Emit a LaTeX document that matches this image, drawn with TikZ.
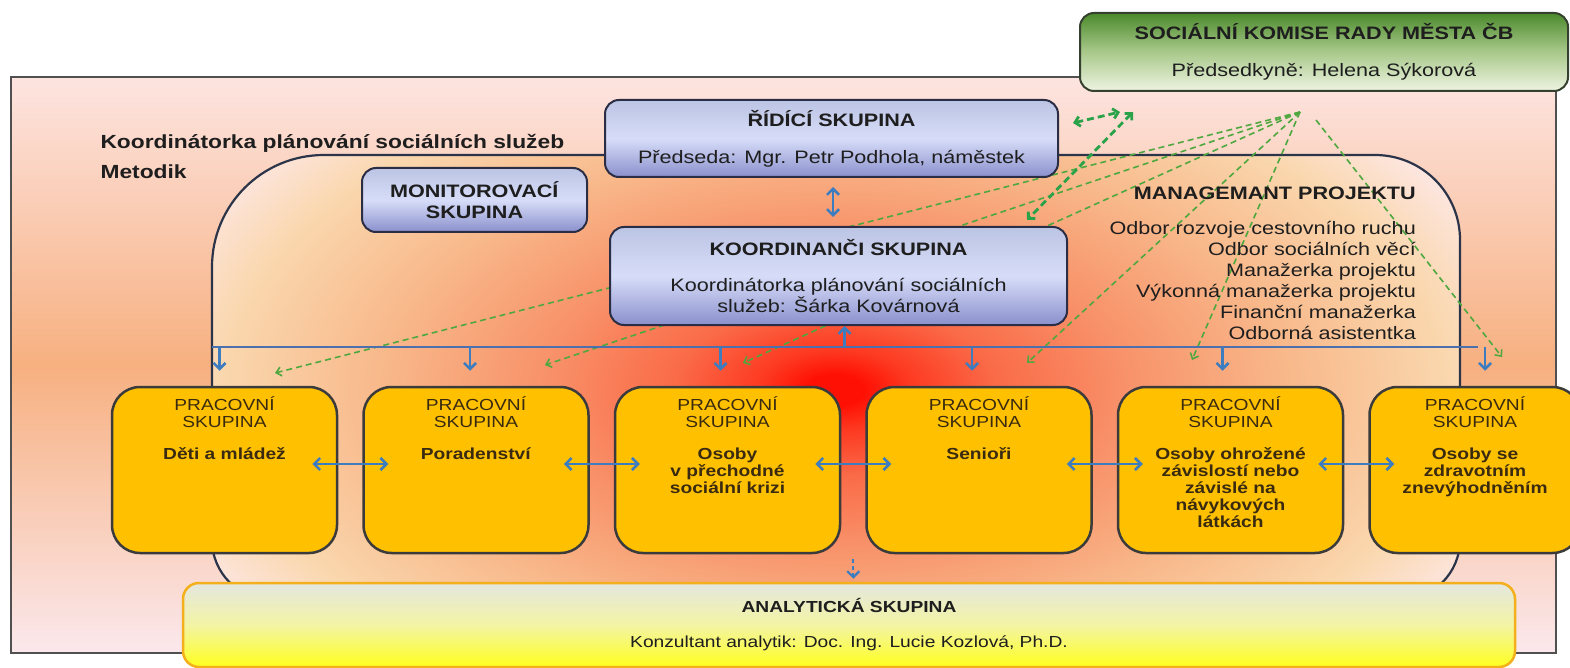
\documentclass[tikz,border=0pt]{standalone}
\usepackage{fontspec}
\setmainfont{Liberation Sans}[FakeStretch=1.2]
\usetikzlibrary{positioning,arrows.meta,calc}

\definecolor{frame}{HTML}{505050}
\definecolor{innerline}{HTML}{2B3448}
\definecolor{frTop}{HTML}{FDE4E0}
\definecolor{frMid}{HTML}{F7B080}
\definecolor{frBot}{HTML}{FBE8EC}
\definecolor{glowA}{HTML}{FF1005}
\definecolor{glowB}{HTML}{FD3820}
\definecolor{glowC}{HTML}{FA6B48}
\definecolor{glowD}{HTML}{F8926A}
\definecolor{glowE}{HTML}{F8B88A}
\definecolor{glowF}{HTML}{FAD7AE}
\definecolor{glowG}{HTML}{FDE8E6}
\definecolor{bbTop}{HTML}{BCC4E4}
\definecolor{bbMid}{HTML}{D7DDF8}
\definecolor{bbBot}{HTML}{8A90CC}
\definecolor{bline}{HTML}{2A2D44}
\definecolor{grTop}{HTML}{4B8A2C}
\definecolor{grMid}{HTML}{A9C98B}
\definecolor{grBot}{HTML}{EEF4E2}
\definecolor{grline}{HTML}{35402F}
\definecolor{pfill}{HTML}{FFC000}
\definecolor{pline}{HTML}{3B3B3B}
\definecolor{ptxt}{HTML}{3A2B10}
\definecolor{anTop}{HTML}{E4E7DF}
\definecolor{anMid}{HTML}{F3F4A4}
\definecolor{anBot}{HTML}{FFFF1E}
\definecolor{anline}{HTML}{F3B01C}
\definecolor{arrblue}{HTML}{3D7CBF}
\definecolor{busblue}{HTML}{4B70AD}
\definecolor{fangreen}{HTML}{4FA83F}
\definecolor{dblgreen}{HTML}{2AA24A}
\definecolor{txt}{HTML}{1E1E1E}

\pgfdeclareradialshading{glow}{\pgfpoint{0bp}{0bp}}{color(0bp)=(glowA); color(1bp)=(glowA); color(2.5bp)=(glowB); color(5.5bp)=(glowC); color(10bp)=(glowD); color(15.5bp)=(glowE); color(21bp)=(glowF); color(25bp)=(glowG); color(50bp)=(glowG)}

\tikzset{
     big/.style={font=\fontsize{18}{21}\selectfont, text=txt},
     bluebox/.style={big, draw=bline, line width=2pt, rounded corners=14pt, top color=bbTop, bottom color=bbBot, middle color=bbMid, align=center, inner sep=0pt},
     greenbox/.style={big, draw=grline, line width=2pt, rounded corners=14pt, top color=grTop, bottom color=grBot, middle color=grMid, align=center, inner sep=0pt},
     anbox/.style={font=\fontsize{16}{19}\selectfont, text=txt, draw=anline, line width=2.5pt, rounded corners=16pt, top color=anTop, bottom color=anBot, middle color=anMid, align=center, inner sep=0pt},
     pbox/.style={draw=pline, line width=2.5pt, rounded corners=28pt, fill=pfill, minimum width=225pt, minimum height=166pt},
     ptext/.style={align=center, inner sep=0pt, text=ptxt, font=\fontsize{16}{17}\selectfont},
     barrow/.style={draw=arrblue, line width=2.6pt, -{Straight Barb[length=6pt,width=12pt]}},
     dbarrow/.style={barrow, {Straight Barb[length=6pt,width=12pt]}-{Straight Barb[length=6pt,width=12pt]}},
     fanline/.style={draw=fangreen, line width=1.6pt, dash pattern=on 6pt off 4pt, -{Straight Barb[length=5pt,width=9pt]}},
     dblgreen/.style={draw=dblgreen, line width=2.8pt, dash pattern=on 7pt off 4pt, {Straight Barb[length=5pt,width=10pt]}-{Straight Barb[length=5pt,width=10pt]}}
     }

\begin{document}
\begin{tikzpicture}[x=1pt,y=-1pt]
            \useasboundingbox[fill=white] (0,0) rectangle (1570,668);
            % Background areas
            \path[draw=frame, line width=1.3pt, top color=frTop, bottom color=frBot, middle color=frMid] (11,77) rectangle (1556,653);
            \begin{scope}
              \clip (212,540) -- (212,267) .. controls (212,205) and (262,155) .. (324,155) -- (1375,155) .. controls (1422,155) and (1460,193) .. (1460,240) -- (1460,540) .. controls (1460,573) and (1433,600) .. (1400,600) -- (272,600) .. controls (239,600) and (212,573) .. (212,540) -- cycle;
              \fill[glowG] (200,150) rectangle (1470,610);
              \shade[shading=glow] (835,390) ellipse [x radius=730, y radius=390];
            \end{scope}
            \draw[innerline, line width=2.2pt] (212,540) -- (212,267) .. controls (212,205) and (262,155) .. (324,155) -- (1375,155) .. controls (1422,155) and (1460,193) .. (1460,240) -- (1460,540) .. controls (1460,573) and (1433,600) .. (1400,600) -- (272,600) .. controls (239,600) and (212,573) .. (212,540) -- cycle;
            % Free ends of the green links
            \coordinate (hub) at (1300,112);
            \coordinate (hubR) at (1316,120);
            \coordinate (t1) at (275,373);
            \coordinate (t2) at (545,365);
            \coordinate (t3) at (743,363);
            \coordinate (t4) at (1027,363);
            \coordinate (t5) at (1192,360);
            \coordinate (t6) at (1502,357);
            \foreach \t in {t1,t2,t3,t4,t5}
              \draw[fanline] (hub) -- (\t);
            \draw[fanline] (hubR) -- (t6);
            % Place nodes
            \node[big, anchor=west, font=\fontsize{19}{21}\selectfont\bfseries] (coordlabel) at (97,143) {Koordinátorka plánování sociálních služeb};
            \node[big, anchor=west, font=\fontsize{19}{21}\selectfont\bfseries] (metodik) at (97,172) {Metodik};
            \node[greenbox, minimum width=488pt, minimum height=78pt] (komise) at (1324,52) {\textbf{SOCIÁLNÍ KOMISE RADY MĚSTA ČB}\\[16pt]Předsedkyně: Helena Sýkorová};
            \node[bluebox, minimum width=453pt, minimum height=77pt] (ridici) at (831.5,138.5) {\textbf{ŘÍDÍCÍ SKUPINA}\\[16pt]Předseda: Mgr. Petr Podhola, náměstek};
            \node[bluebox, minimum width=225pt, minimum height=64pt] (monitor) at (474.5,200) {\textbf{MONITOROVACÍ}\\\textbf{SKUPINA}};
            \node[bluebox, minimum width=457pt, minimum height=98pt, font=\fontsize{18}{19}\selectfont] (koord) at (838.5,276) {\textbf{KOORDINANČI SKUPINA}\\[17pt]Koordinátorka plánování sociálních\\služeb: Šárka Kovárnová};
            \node[big, anchor=north east, align=right, inner sep=0pt] (mgmt) at (1416,186.5) {\textbf{MANAGEMANT PROJEKTU}\\[14pt]Odbor rozvoje cestovního ruchu\\Odbor sociálních věcí\\Manažerka projektu\\Výkonná manažerka projektu\\Finanční manažerka\\Odborná asistentka};
            \node[pbox] (p1) at (224.5,470) {};
            \node[pbox, right=24pt of p1] (p2) {};
            \node[pbox, right=24pt of p2] (p3) {};
            \node[pbox, right=24pt of p3] (p4) {};
            \node[pbox, right=24pt of p4] (p5) {};
            \node[pbox, right=24pt of p5, minimum width=211pt] (p6) {};
            \node[ptext, below=11pt of p1.north] (p1t) {PRACOVNÍ\\SKUPINA\\[15pt]\textbf{Děti a mládež}};
            \node[ptext, below=11pt of p2.north] (p2t) {PRACOVNÍ\\SKUPINA\\[15pt]\textbf{Poradenství}};
            \node[ptext, below=11pt of p3.north] (p3t) {PRACOVNÍ\\SKUPINA\\[15pt]\textbf{Osoby}\\\textbf{v přechodné}\\\textbf{sociální krizi}};
            \node[ptext, below=11pt of p4.north] (p4t) {PRACOVNÍ\\SKUPINA\\[15pt]\textbf{Senioři}};
            \node[ptext, below=11pt of p5.north] (p5t) {PRACOVNÍ\\SKUPINA\\[15pt]\textbf{Osoby ohrožené}\\\textbf{závislostí nebo}\\\textbf{závislé na}\\\textbf{návykových}\\\textbf{látkách}};
            \node[ptext, below=11pt of p6.north] (p6t) {PRACOVNÍ\\SKUPINA\\[15pt]\textbf{Osoby se}\\\textbf{zdravotním}\\\textbf{znevýhodněním}};
            \node[anbox, minimum width=1332pt, minimum height=84pt] (an) at (849,625) {\textbf{ANALYTICKÁ SKUPINA}\\[16pt]Konzultant analytik: Doc. Ing. Lucie Kozlová, Ph.D.};
            % Draw edges
            \coordinate (busL) at (212,347);
            \coordinate (busR) at (1478,347);
            \draw[busblue, line width=2.6pt] (busL) -- (busR);
            \foreach \n/\dx in {1/-5,2/-6,3/-7,4/-7,5/-8,6/10}
              \draw[barrow] ([xshift=\dx pt]p\n.north |- busL) -- ([xshift=\dx pt, yshift=15pt]p\n.north);
            \draw[barrow] ([xshift=6pt]koord.south |- busL) -- ([xshift=6pt]koord.south);
            \draw[dbarrow] ([xshift=1.5pt, yshift=-9pt]ridici.south) -- ([yshift=9pt, xshift=-5.5pt]koord.north);
            \foreach \a/\b in {p1/p2,p2/p3,p3/p4,p4/p5,p5/p6}
              \draw[dbarrow] ([xshift=-26pt,yshift=6pt]\a.east) -- ([xshift=26pt,yshift=6pt]\b.west);
            \coordinate (gap) at ($(p3.south east)!.5!(p4.south west)$);
            \draw[barrow, line width=2.2pt, dash pattern=on 4pt off 3pt] ($(gap)+(0,5)$) -- ($(gap |- an.north)+(0,-3)$);
            \coordinate (g1) at (1073,123);
            \coordinate (g2) at (1120,112);
            \coordinate (g3) at (1133,112);
            \coordinate (g4) at (1027,220);
            \draw[dblgreen] (g1) -- (g2);
            \draw[dblgreen] (g3) -- (g4);
\end{tikzpicture}
\end{document}
